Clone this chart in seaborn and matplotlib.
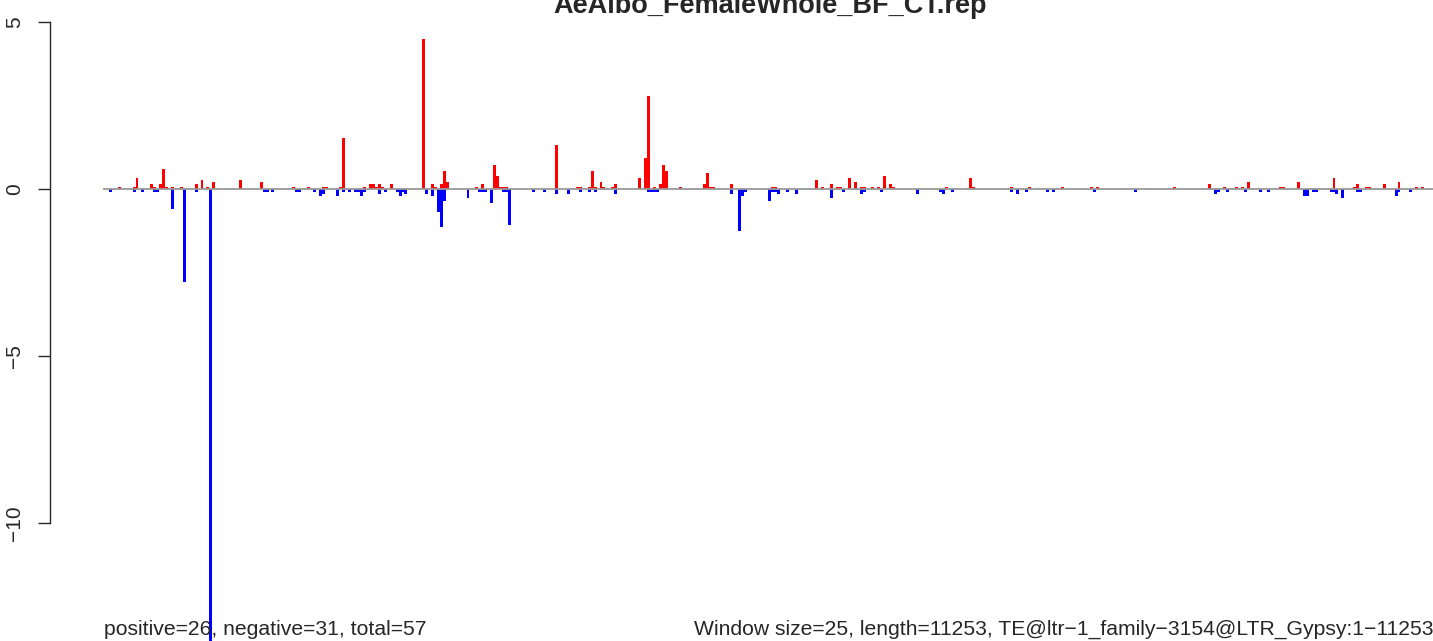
import numpy as np
import pandas as pd
import matplotlib
matplotlib.use("Agg")
import matplotlib.pyplot as plt
import seaborn as sns

title = "AeAlbo_FemaleWhole_BF_CT.rep"
left_note = "positive=26, negative=31, total=57"
right_note = "Window size=25, length=11253, TE@ltr\u22121_family\u22123154@LTR_Gypsy:1\u221211253"
n_windows = 450

# window index -> value
pos_idx = [5, 10, 11, 16, 17, 19, 20, 21, 23, 26, 31, 33, 35, 37, 46, 53,
           64, 69, 74, 75, 80, 81, 88, 90, 91, 92, 93, 94, 97, 108, 111, 112,
           114, 115, 116, 126, 128, 132, 133, 134, 135, 136, 153, 160, 161,
           164, 165, 166, 168, 169, 172, 173, 181, 183, 184, 186, 188, 189,
           190, 195, 203, 204, 205, 206, 212, 226, 227, 241, 243, 246, 248,
           249, 252, 254, 256, 257, 260, 262, 264, 266, 267, 285, 293, 294,
           307, 313, 324, 334, 336, 362, 374, 379, 383, 385, 387, 398, 399,
           404, 416, 423, 424, 427, 428, 433, 438, 444, 446]
pos_val = [0.06, 0.05, 0.33, 0.15, 0.06, 0.15, 0.6, 0.06, 0.06, 0.06, 0.15, 0.27, 0.06, 0.21, 0.27, 0.21,
           0.06, 0.06, 0.06, 0.06, 0.06, 1.53, 0.06, 0.15, 0.15, 0.06, 0.15, 0.06, 0.15, 4.49, 0.15, 0.06,
           0.15, 0.54, 0.21, 0.06, 0.15, 0.72, 0.39, 0.06, 0.06, 0.06, 1.32, 0.06, 0.06,
           0.06, 0.54, 0.06, 0.21, 0.06, 0.06, 0.15, 0.33, 0.93, 2.78, 0.06, 0.15, 0.72,
           0.54, 0.06, 0.15, 0.48, 0.06, 0.06, 0.15, 0.06, 0.06, 0.27, 0.06, 0.15, 0.06,
           0.06, 0.33, 0.21, 0.06, 0.06, 0.06, 0.06, 0.39, 0.15, 0.06, 0.06, 0.33, 0.06,
           0.06, 0.06, 0.06, 0.06, 0.06, 0.06, 0.15, 0.06, 0.06, 0.06, 0.21, 0.06, 0.06,
           0.21, 0.33, 0.06, 0.15, 0.06, 0.06, 0.15, 0.21, 0.06, 0.06]

neg_idx = [2, 10, 13, 17, 18, 23, 27, 31, 36, 54, 55, 57, 65, 66, 71, 73, 74,
           79, 81, 83, 85, 86, 87, 88, 93, 95, 99, 100, 101, 102, 109, 111, 113,
           114, 115, 123, 127, 128, 129, 131, 135, 136, 137, 145, 149, 153, 157,
           161, 164, 166, 173, 184, 185, 186, 187, 212, 215, 216, 217, 225, 226,
           227, 228, 231, 234, 246, 250, 256, 257, 263, 275, 283, 284, 287, 307,
           309, 312, 319, 321, 335, 349, 376, 377, 380, 386, 391, 394, 406, 407,
           409, 410, 415, 416, 417, 419, 424, 425, 437, 438, 442]
neg_val = [-0.08, -0.08, -0.08, -0.08, -0.08, -0.6, -2.78, -0.08, -14.0, -0.08, -0.08, -0.08, -0.08, -0.08, -0.08, -0.2, -0.15,
           -0.2, -0.08, -0.08, -0.08, -0.08, -0.2, -0.08, -0.15, -0.08, -0.08, -0.2, -0.08, -0.15, -0.15, -0.2, -0.68,
           -1.13, -0.35, -0.27, -0.08, -0.08, -0.08, -0.41, -0.08, -0.08, -1.07, -0.08, -0.08, -0.15, -0.15,
           -0.08, -0.08, -0.08, -0.15, -0.08, -0.08, -0.08, -0.08, -0.15, -1.25, -0.2, -0.08, -0.35, -0.08,
           -0.08, -0.15, -0.08, -0.15, -0.27, -0.08, -0.15, -0.08, -0.08, -0.15, -0.08, -0.15, -0.08, -0.08,
           -0.15, -0.08, -0.08, -0.08, -0.08, -0.08, -0.15, -0.08, -0.08, -0.08, -0.08, -0.08, -0.2, -0.2,
           -0.08, -0.08, -0.08, -0.08, -0.15, -0.27, -0.08, -0.08, -0.2, -0.08, -0.08]

sns.set_style("white")
plt.rcParams["font.family"] = ["Liberation Sans", "DejaVu Sans"]

W, H = 1433, 641
fig = plt.figure(figsize=(W / 100, H / 100), dpi=100)
ax = fig.add_axes([50 / W, 0, 1 - 50 / W, 1])

idx = np.arange(n_windows)
pos = np.zeros(n_windows)
pos[pos_idx] = pos_val
neg = np.zeros(n_windows)
neg[neg_idx] = neg_val
df = pd.DataFrame({"window": idx, "pos": pos, "neg": neg})

sns.barplot(data=df, x="window", y="pos", native_scale=True, width=1,
            color="#ff0000", saturation=1, linewidth=0, errorbar=None, ax=ax)
sns.barplot(data=df, x="window", y="neg", native_scale=True, width=1,
            color="#0000ff", saturation=1, linewidth=0, errorbar=None, ax=ax)
ax.hlines(0, -0.5, n_windows - 0.5, color="#999999", lw=1.3, zorder=5)

px = 2.956
ax.set_xlim(-0.5 - 53 / px, n_windows - 0.5)
ax.set_ylim(-13.53, 5.66)

for s in ["top", "right", "bottom"]:
    ax.spines[s].set_visible(False)
ax.spines["left"].set_bounds(-10, 5)
ax.spines["left"].set_linewidth(1.0)
ax.set_yticks([5, 0, -5, -10])
ax.set_yticklabels(["5", "0", "\u22125", "\u221210"], rotation=90, va="center", fontsize=15)
ax.tick_params(axis="y", left=True, length=8.6, width=1.0, pad=10)
ax.set_xticks([])
ax.set_xlabel("")
ax.set_ylabel("")

fig.text(770 / W, 1 - 13 / H, title, ha="center", va="baseline",
         fontsize=19.5, fontweight="bold")
fig.text(104 / W, 1 - 635 / H, left_note, ha="left", va="baseline", fontsize=15.2)
fig.text(1433 / W, 1 - 635 / H, right_note, ha="right", va="baseline", fontsize=15.2)

fig.savefig("out.png", dpi=100)
